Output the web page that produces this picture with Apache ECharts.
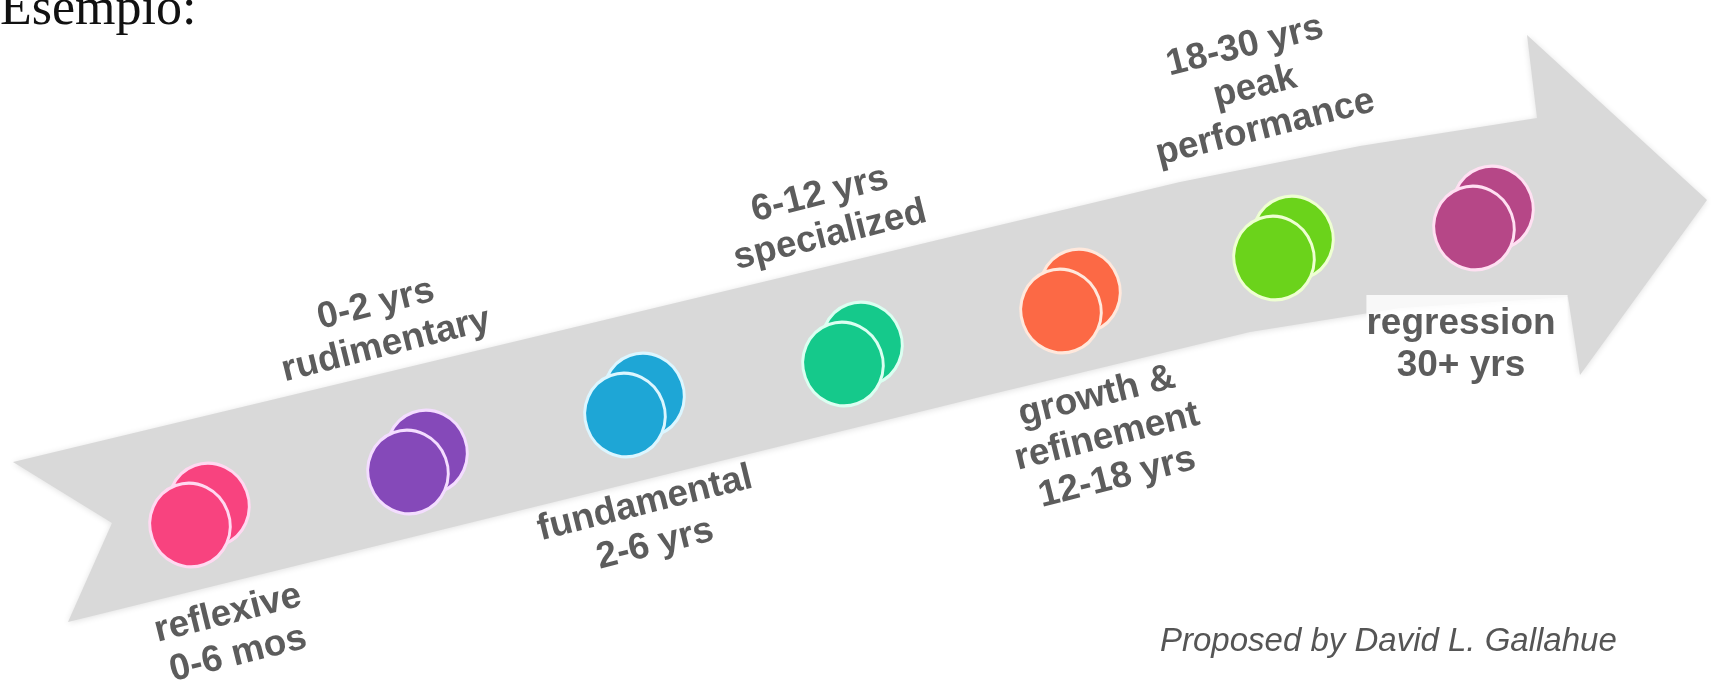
<!DOCTYPE html>
<html>
<head>
<meta charset="utf-8">
<script src="https://cdn.jsdelivr.net/npm/echarts@6/dist/echarts.min.js"></script>
<style>
  html, body { margin: 0; padding: 0; background: #ffffff; }
  #chart { width: 1712px; height: 683px; }
</style>
</head>
<body>
<div id="chart"></div>
<script>
// ---- data ----
const stageNames = ['reflexive', 'rudimentary', 'fundamental', 'specialized', 'growth &\nrefinement', 'peak\nperformance', 'regression'];
const stageAges = ['0-6 mos', '0-2 yrs', '2-6 yrs', '6-12 yrs', '12-18 yrs', '18-30 yrs', '30+ yrs'];
const iconX = [190, 408, 625, 843, 1061, 1274, 1474];
const iconY = [525, 472, 415, 364, 311, 258, 228];
const titleText = 'Esempio:';
const creditText = 'Proposed by David L. Gallahue';

// ---- styles / layout ----
const palette = ['#f8437f', '#8549b9', '#1ea6d6', '#15c98b', '#fc6945', '#6bd31b', '#b64787'];
const rims = ['#ffd9f1', '#f4ddff', '#dcf6ff', '#dbfff1', '#ffe8dc', '#eeffd2', '#ffe0f2'];
const labelAbove = [false, true, false, true, false, true, false];
const labelShift = [[43, 109], [-27, -147], [25, 109], [-18, -149], [46, 126], [-19, -171], [-7, 117]];
const labelRotate = [14, 14, 14, 14, 14, 14, 0];
const arrowShape = [
  [13, 462], [1000, 225], [1180, 182], [1360, 146], [1537, 118], [1527, 35], [1707, 200],
  [1580, 375], [1568, 297], [1400, 308], [1250, 332], [980, 397], [68, 622], [112, 523]
];

const chart = echarts.init(document.getElementById('chart'), null, { renderer: 'canvas' });

const iconData = iconX.map((x, i) => ({
  value: [x, iconY[i]],
  itemStyle: { color: palette[i], borderColor: rims[i] }
}));

const labelData = iconX.map((x, i) => ({
  value: [x + labelShift[i][0], iconY[i] + labelShift[i][1]],
  label: {
    rotate: labelRotate[i],
    formatter: labelAbove[i] ? stageAges[i] + '\n' + stageNames[i] : stageNames[i] + '\n' + stageAges[i],
    backgroundColor: i === 6 ? '#ffffff' : 'transparent',
    padding: i === 6 ? [0, 12, 16, 0] : 0
  }
}));

const option = {
  backgroundColor: '#ffffff',
  animation: false,
  title: [
    {
      text: titleText, left: 0, top: -16, padding: 0,
      textStyle: { fontFamily: 'Liberation Serif', fontSize: 52, fontWeight: 'normal', color: '#111111' }
    },
    {
      text: creditText, left: 1160, top: 625, padding: 0,
      textStyle: { fontFamily: 'Liberation Sans', fontStyle: 'italic', fontSize: 33, fontWeight: 'normal', color: '#555555' }
    }
  ],
  grid: { left: 0, right: 0, top: 0, bottom: 0 },
  xAxis: { type: 'value', min: 0, max: 1712, show: false },
  yAxis: { type: 'value', min: 0, max: 683, inverse: true, show: false },
  series: [
    {
      type: 'custom',
      silent: true,
      clip: false,
      z: 1,
      data: [[0, 0]],
      renderItem: function (params, api) {
        const pts = arrowShape.map(p => api.coord(p));
        return {
          type: 'polygon',
          shape: { points: pts, smooth: 0 },
          style: { fill: '#d9d9d9', shadowBlur: 6, shadowColor: 'rgba(0,0,0,0.12)', shadowOffsetY: 1 }
        };
      }
    },
    {
      type: 'scatter',
      silent: true,
      z: 2,
      symbol: 'circle',
      symbolSize: [80, 84],
      symbolRotate: 20,
      symbolOffset: [19, -20],
      itemStyle: { borderWidth: 3, opacity: 1 },
      data: iconData
    },
    {
      type: 'scatter',
      silent: true,
      z: 3,
      symbol: 'circle',
      symbolSize: [80, 84],
      symbolRotate: 20,
      itemStyle: { borderWidth: 3, opacity: 1 },
      data: iconData
    },
    {
      type: 'scatter',
      silent: true,
      z: 4,
      symbolSize: 1,
      itemStyle: { color: 'rgba(0,0,0,0)' },
      label: {
        show: true,
        position: 'inside',
        align: 'center',
        verticalAlign: 'middle',
        fontFamily: 'Liberation Sans',
        fontWeight: 'bold',
        fontSize: 37,
        lineHeight: 42,
        color: '#333333'
      },
      data: labelData
    }
  ]
};

chart.setOption(option);
</script>
</body>
</html>
